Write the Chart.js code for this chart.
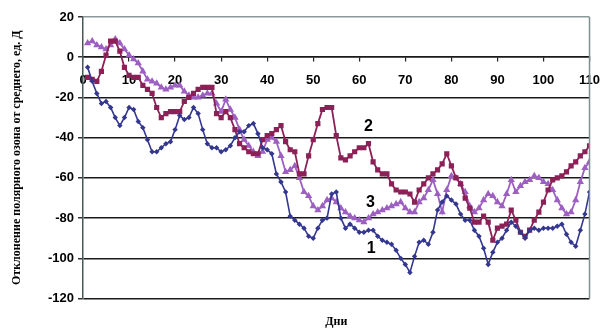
<!DOCTYPE html>
<html>
<head>
<meta charset="utf-8">
<script src="https://cdn.jsdelivr.net/npm/chart.js@4"></script>
<style>
	html, body { margin: 0; padding: 0; background: #fff; }
	#wrap { width: 611px; height: 329px; }
</style>
</head>
<body>
<div id="wrap"><canvas id="ozone"></canvas></div>
<script>
// days 1..110
const days = Array.from({ length: 110 }, (_, i) => i + 1);

// series 1 (blue)
const series1 = [
	-5, -12, -18, -23, -22, -25, -30, -34, -30, -25,
	-26, -32, -35, -41, -47, -47, -45, -43, -42, -36,
	-29, -31, -30, -25, -28, -36, -43, -45, -45, -47,
	-46, -44, -40, -37, -37, -34, -33, -38, -45, -46,
	-48, -58, -62, -67, -79, -81, -83, -85, -89, -90,
	-85, -81, -80, -68, -67, -80, -85, -83, -85, -87,
	-87, -86, -86, -89, -91, -92, -93, -96, -100, -103,
	-107, -99, -92, -91, -93, -87, -76, -72, -69, -71,
	-73, -78, -81, -81, -86, -89, -95, -103, -97, -92,
	-90, -86, -82, -84, -87, -90, -86, -85, -86, -85,
	-85, -85, -84, -83, -88, -92, -94, -86, -78, -67
];

// series 2 (maroon)
const series2 = [
	-10, -11, -12, -7, 1, 8, 8, 3, -5, -9,
	-10, -10, -14, -16, -18, -25, -30, -28, -27, -27,
	-27, -22, -20, -18, -16, -15, -15, -15, -28, -30,
	-27, -30, -36, -43, -45, -47, -48, -48, -41, -39,
	-38, -36, -34, -42, -46, -47, -58, -58, -49, -41,
	-33, -26, -25, -25, -39, -50, -51, -49, -47, -45,
	-45, -43, -52, -56, -58, -58, -63, -66, -67, -67,
	-68, -72, -66, -63, -60, -58, -56, -53, -48, -54,
	-60, -63, -70, -75, -82, -82, -79, -82, -91, -85,
	-84, -83, -76, -81, -87, -89, -86, -81, -77, -72,
	-66, -61, -60, -59, -57, -54, -52, -49, -47, -44
];

// series 3 (purple)
const series3 = [
	7, 8, 6, 5, 4, 6, 9, 7, 4, 1,
	-1, -3, -7, -11, -12, -13, -15, -16, -15, -14,
	-14, -17, -19, -20, -20, -19, -18, -18, -23, -27,
	-21, -26, -30, -36, -41, -44, -47, -49, -47, -41,
	-40, -42, -49, -57, -56, -54, -60, -67, -69, -74,
	-76, -74, -71, -70, -72, -75, -77, -79, -80, -81,
	-82, -80, -78, -77, -76, -75, -74, -73, -72, -75,
	-77, -77, -72, -70, -66, -61, -68, -77, -66, -59,
	-60, -63, -67, -74, -77, -75, -71, -68, -69, -72,
	-74, -68, -61, -67, -64, -62, -61, -59, -60, -62,
	-63, -66, -71, -75, -78, -77, -71, -62, -55, -52
];

// curve numbers, in data coordinates
const curveLabels = [
	{ text: '1', day: 62.6, value: -95 },
	{ text: '2', day: 62, value: -34.5 },
	{ text: '3', day: 62.4, value: -72.5 }
];

const tickFont = { family: 'Liberation Sans, Arial, sans-serif', size: 13, weight: 'bold' };
const titleFont = { family: 'Liberation Serif, Times New Roman, serif', size: 12, weight: 'bold' };

// right border + curve numbers
const extras = {
	id: 'extras',
	afterDraw(chart) {
		const { ctx, chartArea, scales } = chart;
		ctx.save();
		ctx.strokeStyle = '#7f8f8f';
		ctx.lineWidth = 1.5;
		ctx.beginPath();
		ctx.moveTo(chartArea.right, chartArea.top);
		ctx.lineTo(chartArea.right, chartArea.bottom);
		ctx.stroke();
		ctx.fillStyle = '#000';
		ctx.font = 'bold 16px Liberation Sans, Arial, sans-serif';
		ctx.textAlign = 'center';
		ctx.textBaseline = 'middle';
		curveLabels.forEach((l) => {
			ctx.fillText(l.text, scales.x.getPixelForValue(l.day), scales.y.getPixelForValue(l.value));
		});
		ctx.restore();
	}
};

const canvas = document.getElementById('ozone').getContext('2d');
new Chart(canvas, {
	type: 'line',
	data: {
		labels: days,
		datasets: [
			{
				label: '1',
				data: series1,
				borderColor: '#34378f',
				backgroundColor: '#34378f',
				borderWidth: 1.6,
				pointStyle: 'rectRot',
				pointRadius: 1.6,
				tension: 0
			},
			{
				label: '2',
				data: series2,
				borderColor: '#8c2157',
				backgroundColor: '#8c2157',
				borderWidth: 1.8,
				pointStyle: 'rect',
				pointRadius: 2.4,
				tension: 0
			},
			{
				label: '3',
				data: series3,
				borderColor: '#9d5fc2',
				backgroundColor: '#9d5fc2',
				borderWidth: 1.8,
				pointStyle: 'triangle',
				pointRadius: 2.4,
				tension: 0
			}
		]
	},
	options: {
		responsive: true,
		maintainAspectRatio: false,
		animation: false,
		layout: { padding: { top: 17, right: 13, left: 0, bottom: 0 } },
		plugins: {
			legend: { display: false },
			tooltip: { enabled: false },
			title: {
				display: true,
				position: 'bottom',
				fullSize: false,
				text: 'Дни',
				color: '#000',
				font: titleFont,
				padding: { top: 16, bottom: 0 }
			}
		},
		scales: {
			x: {
				type: 'linear',
				position: { y: 0 },
				min: 0,
				max: 110,
				ticks: { stepSize: 10, color: '#000', font: tickFont, padding: 11, maxRotation: 0 },
				grid: { drawOnChartArea: false, drawTicks: true, tickLength: 4, tickColor: '#222', lineWidth: 1.2 },
				border: { display: true, color: '#1a1a1a', width: 1.5 }
			},
			y: {
				min: -120,
				max: 20,
				ticks: { stepSize: 20, color: '#000', font: tickFont, padding: 4 },
				grid: {
					color: (c) => (c.tick && c.tick.value === 20 ? '#8a9999' : '#1a1a1a'),
					lineWidth: 1.5,
					tickLength: 5,
					tickColor: '#333'
				},
				border: { display: true, color: '#4a5555', width: 1.5 },
				title: {
					display: true,
					text: 'Отклонение полярного озона от среднего, ед. Д',
					color: '#000',
					font: titleFont,
					padding: { top: 10, bottom: 0 }
				},
				afterFit: (scale) => { scale.width = 83; }
			}
		}
	},
	plugins: [extras]
});
</script>
</body>
</html>
